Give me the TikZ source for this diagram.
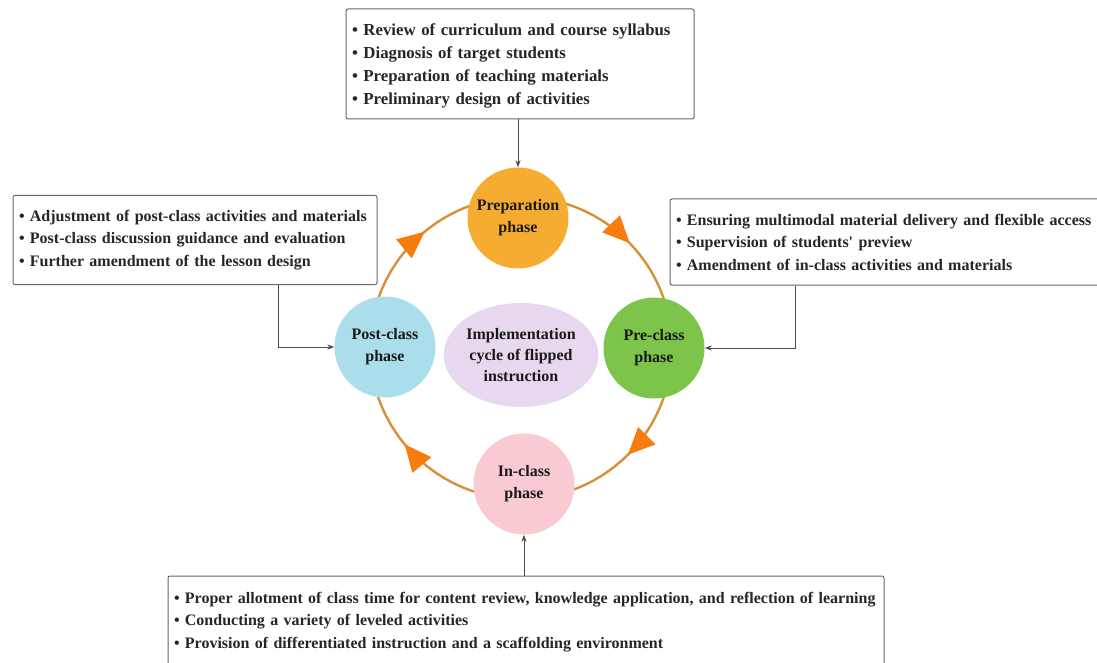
\documentclass[tikz,border=0pt]{standalone}
\usepackage{fontspec}
\setmainfont{Liberation Serif}
\usetikzlibrary{arrows.meta}
\usetikzlibrary{shapes.geometric}
\usetikzlibrary{decorations.markings}

\definecolor{prepcol}{RGB}{246,172,48}
\definecolor{precol}{RGB}{124,196,74}
\definecolor{incol}{RGB}{249,202,210}
\definecolor{postcol}{RGB}{170,222,235}
\definecolor{corecol}{RGB}{231,215,239}
\definecolor{ringcol}{RGB}{218,142,58}
\definecolor{tipcol}{RGB}{246,124,14}

\newcommand{\cycletip}{\arrow[tipcol]{Triangle[length=27pt,width=24pt]}}

\tikzset{
  infobox/.style={draw=black!60, line width=1pt, rounded corners=2pt, fill=white, align=left, inner xsep=6pt, inner ysep=0pt, text=black!85, font=\fontsize{16}{22.5}\selectfont\bfseries},
  phase/.style={circle, minimum size=101pt, inner sep=0pt, align=center, text=black!90, font=\fontsize{16}{22}\selectfont\bfseries},
  link/.style={draw=black!70, line width=0.8pt, -{Stealth[length=7pt,width=5pt]}},
  ring/.style={draw=ringcol, line width=2.4pt}
}

\begin{document}
\begin{tikzpicture}[x=1pt,y=-1pt]
\useasboundingbox (0,0) rectangle (1097,663);
\coordinate (O) at (521,348);
\draw[ring, postaction={decorate}, decoration={markings,
  mark=at position 0.125 with {\cycletip},
  mark=at position 0.39 with {\cycletip},
  mark=at position 0.64 with {\cycletip},
  mark=at position 0.878 with {\cycletip}}] (O) circle [radius=151];

\node[phase, fill=prepcol] (prep) at (518,218) {Preparation\\phase};
\node[phase, fill=precol] (pre) at (654,348) {Pre-class\\phase};
\node[phase, fill=incol] (in) at (524,484) {In-class\\phase};
\node[phase, fill=postcol] (post) at (385,347) {Post-class\\phase};
\node[ellipse, fill=corecol, minimum width=128pt, minimum height=104pt, inner sep=0pt, align=center, text=black!90, font=\fontsize{16}{21}\selectfont\bfseries] (core) at (521,355) {Implementation\\cycle of flipped\\instruction};

\node[infobox, minimum height=110pt, text width=336pt, font=\fontsize{16.8}{23}\selectfont\bfseries] (tbox) at (520,64) {\vphantom{Ag}\\[-19pt]• Review of curriculum and course syllabus\\• Diagnosis of target students\\• Preparation of teaching materials\\• Preliminary design of activities};
\node[infobox, minimum height=89pt, text width=352pt] (lbox) at (195,240) {• Adjustment of post-class activities and materials\\• Post-class discussion guidance and evaluation\\• Further amendment of the lesson design};
\node[infobox, minimum height=86pt, text width=422pt] (rbox) at (887,242) {• Ensuring multimodal material delivery and flexible access\\• Supervision of students\textquotesingle\ preview\\• Amendment of in-class activities and materials};
\node[infobox, minimum height=92pt, text width=704pt] (bbox) at (526,622) {• Proper allotment of class time for content review, knowledge application, and reflection of learning\\• Conducting a variety of leveled activities\\• Provision of differentiated instruction and a scaffolding environment};

\draw[link] (tbox.south -| prep.north) -- (prep.north);
\draw[link] ([xshift=-92pt]rbox.south) |- (pre.east);
\draw[link] ([xshift=83pt]lbox.south) |- (post.west);
\draw[link] (bbox.north -| in.south) -- (in.south);
\end{tikzpicture}
\end{document}
